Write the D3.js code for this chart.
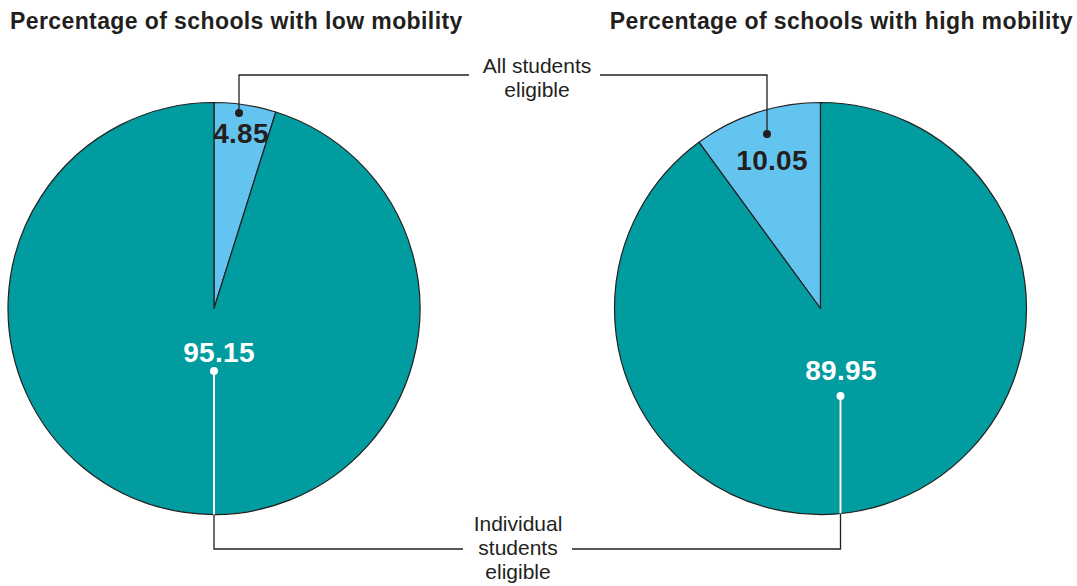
<!DOCTYPE html>
<html>
<head>
<meta charset="utf-8">
<script src="https://cdn.jsdelivr.net/npm/d3@7"></script>
<style>
  html, body { margin: 0; padding: 0; background: #fff; }
  svg { display: block; }
</style>
</head>
<body>
<svg id="chart" width="1077" height="586"></svg>
<script>
// ---- data ----
const titles = ["Percentage of schools with low mobility", "Percentage of schools with high mobility"];
const categories = ["All students eligible", "Individual students eligible"];
const allStudents = [4.85, 10.05];
const individualStudents = [95.15, 89.95];
const categoryLines = [["All students", "eligible"], ["Individual", "students", "eligible"]];

// ---- style / layout ----
const W = 1077, H = 586;
const colors = ["#63c5ef", "#009ca0"];
const ink = "#231f20";
const R = 206;
const centers = [[214, 308.5], [820.5, 308.5]];
const direction = [1, -1]; // left pie clockwise, right pie counter-clockwise
const font = "'Liberation Sans', Arial, Helvetica, sans-serif";

const svg = d3.select("#chart");

// titles
svg.append("text").attr("x", 10).attr("y", 29)
  .attr("font-family", font).attr("font-weight", "bold").attr("font-size", 23)
  .attr("letter-spacing", 0.4)
  .attr("fill", ink).text(titles[0]);
svg.append("text").attr("x", 1073).attr("y", 29).attr("text-anchor", "end")
  .attr("font-family", font).attr("font-weight", "bold").attr("font-size", 23)
  .attr("letter-spacing", 0.4)
  .attr("fill", ink).text(titles[1]);

const arc = d3.arc().innerRadius(0).outerRadius(R);

// annotation layout (label centre radius / dot offsets relative to pie centre)
const labelPos = [
  { smallR: 178, big: [5, 43], dotSmall: [25, -195.5], dotBig: [0, 62.5] },
  { smallR: 156, big: [20.5, 61], dotSmall: [-53.5, -174.5], dotBig: [20, 87.5] }
];

const leaderTopY = 75, leaderBottomY = 549;
const topTextX = 537, bottomTextX = 518;
const topLeaderEnds = [469, 600];
const bottomLeaderEnds = [463, 572];

const defs = svg.append("defs");

titles.forEach((t, i) => {
  const values = [allStudents[i], individualStudents[i]];
  const pie = d3.pie().sort(null).value(d => d)
    .startAngle(0).endAngle(direction[i] * 2 * Math.PI);
  const arcs = pie(values);
  const [cx, cy] = centers[i];
  const g = svg.append("g").attr("transform", `translate(${cx},${cy})`);

  g.selectAll("path.slice").data(arcs).join("path")
    .attr("class", "slice")
    .attr("d", arc)
    .attr("fill", (d, j) => colors[j])
    .attr("stroke", ink).attr("stroke-width", 1.2)
    .attr("stroke-linejoin", "round");

  // clip for teal slice
  defs.append("clipPath").attr("id", "teal" + i)
    .append("path").attr("d", arc(arcs[1]))
    .attr("transform", `translate(${cx},${cy})`);

  const L = labelPos[i];
  // leader top (All students)
  const dS = L.dotSmall;
  const topPts = [[cx + dS[0], cy + dS[1]], [cx + dS[0], leaderTopY], [topLeaderEnds[i], leaderTopY]];
  svg.append("path").attr("d", d3.line()(topPts))
    .attr("fill", "none").attr("stroke", ink).attr("stroke-width", 1.3);
  svg.append("circle").attr("cx", cx + dS[0]).attr("cy", cy + dS[1]).attr("r", 4).attr("fill", ink);

  // leader bottom (Individual students)
  const dB = L.dotBig;
  const botPts = [[cx + dB[0], cy + dB[1]], [cx + dB[0], leaderBottomY], [bottomLeaderEnds[i], leaderBottomY]];
  svg.append("path").attr("d", d3.line()(botPts))
    .attr("fill", "none").attr("stroke", ink).attr("stroke-width", 1.3);
  svg.append("path").attr("d", d3.line()(botPts))
    .attr("fill", "none").attr("stroke", "#fff").attr("stroke-width", 2)
    .attr("clip-path", `url(#teal${i})`);
  svg.append("circle").attr("cx", cx + dB[0]).attr("cy", cy + dB[1]).attr("r", 4).attr("fill", "#fff");

  // value labels
  const cS = d3.arc().innerRadius(L.smallR).outerRadius(L.smallR).centroid(arcs[0]);
  g.append("text").attr("x", cS[0]).attr("y", cS[1]).attr("dy", "0.36em")
    .attr("text-anchor", "middle").attr("font-family", font).attr("font-weight", "bold")
    .attr("font-size", 28).attr("letter-spacing", 0.3).attr("fill", ink).text(d3.format(".2f")(values[0]));
  g.append("text").attr("x", L.big[0]).attr("y", L.big[1]).attr("dy", "0.36em")
    .attr("text-anchor", "middle").attr("font-family", font).attr("font-weight", "bold")
    .attr("font-size", 28).attr("letter-spacing", 0.3).attr("fill", "#fff").text(d3.format(".2f")(values[1]));
});

// category annotation texts
const topT = svg.append("text").attr("text-anchor", "middle")
  .attr("font-family", font).attr("font-size", 21).attr("fill", ink);
categoryLines[0].forEach((s, k) => topT.append("tspan").attr("x", topTextX).attr("y", 73 + k * 24).text(s));
const botT = svg.append("text").attr("text-anchor", "middle")
  .attr("font-family", font).attr("font-size", 21).attr("fill", ink);
categoryLines[1].forEach((s, k) => botT.append("tspan").attr("x", bottomTextX).attr("y", 531 + k * 24).text(s));
</script>
</body>
</html>
